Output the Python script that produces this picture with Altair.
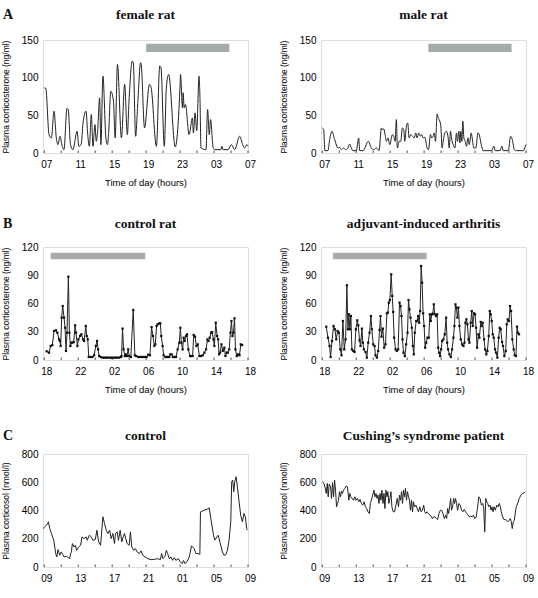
import json

import altair as alt
import pandas as pd

# ---------------------------------------------------------------------------
# Hormone profiles: (hours after the first clock label, concentration)
# ---------------------------------------------------------------------------
female_rat = [
    (0.0, 86.5), (0.18, 85.7), (0.56, 24.4), (0.84, 20), (1.15, 55.5), (1.42, 20),
    (1.61, 11.1), (1.85, 22.2), (2.12, 8.9), (2.32, 4.4), (2.67, 59), (2.82, 57.7),
    (3.09, 11.1), (3.37, 4.4), (3.87, 28.8), (4.07, 8.9), (4.34, 11.1), (4.57, 40),
    (4.92, 55.5), (5.12, 24.4), (5.31, 8.9), (5.54, 51), (5.74, 8.9), (5.97, 37.7),
    (6.13, 15.5), (6.28, 28), (6.52, 73.2), (6.67, 11.1), (6.91, 102), (7.26, 20),
    (7.45, 11.1), (7.57, 24.4), (7.84, 82), (8.15, 68.8), (8.35, 20), (8.62, 117.6),
    (9.09, 20), (9.47, 91), (9.79, 24.4), (9.98, 68.8), (10.37, 122), (10.49, 119.8),
    (10.76, 22.2), (11.03, 68.8), (11.34, 119.8), (11.42, 117.6), (11.81, 33.3),
    (12.39, 91), (12.59, 86.5), (13.21, 8.9), (13.60, 115.4), (13.75, 113.2),
    (14.14, 8.9), (14.38, 86.5), (14.65, 104.3), (15.43, 8), (16.01, 93.2),
    (16.05, 104.3), (16.28, 60), (16.36, 80), (16.48, 60), (16.63, 64.4),
    (17.06, 24.4), (17.45, 46.6), (17.57, 26.6), (17.76, 53.3), (17.96, 29.7),
    (18.23, 102), (18.35, 68.8), (18.46, 6.7), (19.05, 4.4), (19.24, 57.7),
    (19.44, 24.4), (19.59, 44.4), (19.90, 6.7), (20.10, 4.4), (20.80, 4.4),
    (20.91, 8.9), (21.07, 4.4), (21.65, 4.4), (22.04, 11.1), (22.43, 4.4),
    (23.02, 22.2), (23.37, 11.1), (23.60, 6.7), (23.87, 11.1), (24.0, 8.9),
]

male_rat = [
    (0.0, 33.3), (0.16, 31.1), (0.31, 3.1), (0.67, 3.1), (0.87, 17.8), (1.14, 28.8),
    (1.46, 17.8), (1.85, 6.7), (2.05, 7.5), (2.24, 4.4), (2.52, 6.7), (2.75, 4.4),
    (3.03, 6.7), (3.23, 12), (3.42, 6.7), (3.62, 3.1), (4.01, 3.1), (4.29, 20),
    (4.41, 3.1), (4.80, 3.1), (5.43, 15.5), (5.78, 6.7), (6.06, 4.4), (6.37, 6.7),
    (6.69, 3.1), (6.96, 33.3), (7.08, 31.1), (7.24, 32), (7.40, 24.4), (7.55, 15.5),
    (7.75, 20), (7.95, 11.1), (8.26, 24.4), (8.42, 22.2), (8.58, 15.5), (8.73, 44.4),
    (8.85, 6.7), (9.05, 15.5), (9.24, 15.5), (9.44, 33.3), (9.60, 31.1), (9.72, 15.5),
    (9.91, 35.5), (10.07, 39.9), (10.23, 20), (10.42, 24.4), (10.62, 22.2),
    (10.82, 20), (11.02, 26.6), (11.17, 20), (11.37, 26.6), (11.57, 22.2),
    (11.72, 24.4), (11.88, 20), (12.08, 20.9), (12.35, 6.7), (12.51, 4.4),
    (12.75, 24.4), (12.90, 20), (13.06, 22.2), (13.18, 26.6), (13.34, 15.5),
    (13.53, 51.9), (13.65, 46.6), (13.85, 42.2), (13.97, 35.5), (14.12, 6.7),
    (14.24, 15.5), (14.44, 26.6), (14.63, 28.8), (14.83, 20), (14.95, 6.7),
    (15.11, 28.8), (15.22, 20), (15.42, 11.1), (15.62, 6.7), (15.81, 26.6),
    (15.93, 15.5), (16.09, 28.8), (16.21, 13.3), (16.33, 28.8), (16.44, 15.5),
    (16.56, 42.2), (16.68, 20), (16.84, 15.5), (16.99, 8.9), (17.15, 20),
    (17.31, 11.1), (17.55, 26.6), (17.66, 20), (17.86, 6.7), (18.10, 6.7),
    (18.33, 26.6), (18.49, 24.4), (18.69, 13.3), (18.96, 3.1), (19.35, 3.1),
    (19.94, 3.1), (20.22, 8.9), (20.38, 3.1), (20.93, 3.1), (21.16, 8.9),
    (21.32, 3.1), (21.91, 3.1), (22.19, 22.2), (22.39, 17.8), (22.63, 4.4),
    (22.90, 3.1), (23.69, 3.1), (23.92, 8.9), (24.0, 11.1),
]

control_rat = [
    (0.28, 9.2), (0.56, 7.8), (0.75, 14.9), (0.95, 15.9), (1.15, 30.8), (1.38, 31.5),
    (1.54, 29.0), (1.74, 21.9), (1.85, 20.2), (1.93, 14.9), (2.05, 45.0), (2.17, 57.3),
    (2.33, 45.0), (2.45, 34.3), (2.56, 9.6), (2.68, 29.0), (2.84, 88.5), (2.96, 29.0),
    (3.08, 14.9), (3.19, 18.4), (3.31, 18.4), (3.47, 19.1), (3.63, 36.8), (3.74, 29.0),
    (3.90, 14.9), (4.02, 21.9), (4.22, 25.5), (4.37, 27.3), (4.57, 21.9), (4.69, 20.2),
    (4.89, 36.1), (5.00, 25.5), (5.12, 21.9), (5.24, 3.2), (5.48, 3.2), (5.67, 3.2),
    (5.87, 5.0), (6.07, 14.9), (6.22, 20.2), (6.34, 11.3), (6.46, 4.2), (6.66, 3.2),
    (6.86, 2.5), (7.05, 2.5), (7.25, 2.5), (7.45, 2.5), (7.65, 2.5), (7.84, 2.5),
    (8.04, 2.5), (8.23, 2.5), (8.43, 2.5), (8.63, 2.5), (8.82, 2.5), (9.02, 3.2),
    (9.10, 4.2), (9.22, 33.3), (9.34, 11.3), (9.49, 4.2), (9.61, 6.0), (9.73, 4.2),
    (9.89, 11.3), (10.00, 4.2), (10.20, 3.2), (10.48, 53.1), (10.67, 5.0), (10.83, 4.2),
    (11.07, 3.2), (11.25, 3.2), (11.45, 3.2), (11.65, 3.2), (11.85, 3.2), (12.05, 3.2),
    (12.25, 5.7), (12.45, 5.0), (12.64, 35.0), (12.80, 25.5), (12.96, 14.9),
    (13.08, 16.6), (13.23, 36.1), (13.35, 37.9), (13.55, 38.9), (13.67, 38.9),
    (13.78, 25.5), (13.94, 14.9), (14.06, 5.0), (14.26, 3.2), (14.45, 3.2), (14.60, 3.2),
    (14.73, 3.2), (14.85, 6.0), (15.00, 6.0), (15.16, 3.2), (15.34, 3.2), (15.52, 3.2),
    (15.71, 11.3), (15.91, 18.4), (16.03, 34.3), (16.15, 18.4), (16.30, 11.3),
    (16.42, 23.7), (16.54, 20.2), (16.70, 25.5), (16.82, 27.3), (16.97, 11.3),
    (17.17, 4.2), (17.29, 4.2), (17.48, 4.2), (17.60, 26.6), (17.76, 24.8),
    (17.92, 14.9), (18.08, 16.6), (18.27, 4.2), (18.47, 4.2), (18.67, 5.0),
    (18.86, 7.8), (19.06, 11.3), (19.22, 21.9), (19.34, 20.2), (19.49, 23.7),
    (19.65, 29.0), (19.77, 29.7), (19.93, 21.9), (20.04, 14.9), (20.20, 39.6),
    (20.36, 25.5), (20.48, 21.9), (20.59, 6.0), (20.71, 7.8), (20.87, 16.6),
    (21.03, 9.6), (21.22, 13.1), (21.34, 4.2), (21.50, 7.8), (21.62, 7.8),
    (21.78, 11.3), (21.93, 29.0), (22.05, 41.4), (22.17, 25.5), (22.29, 29.0),
    (22.41, 44.3), (22.52, 11.3), (22.68, 4.2), (22.84, 6.0), (23.00, 5.0),
    (23.15, 16.6), (23.31, 15.9),
]

arthritis_rat = [
    (0.47, 35.4), (0.67, 23.7), (0.86, 14.9), (0.98, 3.2), (1.14, 20.2), (1.33, 36.1),
    (1.49, 32.6), (1.65, 21.9), (1.80, 30.8), (1.96, 29.0), (2.12, 11.3), (2.27, 5.0),
    (2.43, 41.4), (2.59, 11.3), (2.75, 21.9), (2.90, 79.3), (3.02, 32.6), (3.14, 48.5),
    (3.25, 32.6), (3.37, 46.7), (3.49, 11.3), (3.65, 9.6), (3.80, 8.5), (3.96, 32.6),
    (4.12, 42.1), (4.24, 36.8), (4.39, 20.9), (4.51, 14.9), (4.67, 33.3), (4.78, 18.4),
    (4.90, 11.3), (5.10, 8.5), (5.25, 2.5), (5.41, 18.4), (5.57, 29.0), (5.73, 46.7),
    (5.84, 32.6), (6.00, 16.6), (6.16, 14.9), (6.27, 5.0), (6.43, 2.5), (6.59, 9.6),
    (6.75, 31.9), (6.86, 46.7), (6.98, 24.8), (7.14, 33.3), (7.29, 13.1), (7.45, 16.6),
    (7.61, 49.6), (7.73, 50.3), (7.84, 60.9), (7.96, 63.7), (8.12, 91.0), (8.24, 68.0),
    (8.35, 51.0), (8.47, 23.7), (8.63, 11.3), (8.78, 9.6), (8.94, 11.3), (9.10, 60.9),
    (9.22, 57.3), (9.33, 46.7), (9.45, 21.9), (9.57, 7.8), (9.73, 4.2), (9.88, 16.6),
    (10.04, 29.0), (10.16, 63.7), (10.27, 53.8), (10.39, 45.0), (10.55, 34.3),
    (10.67, 14.9), (10.78, 6.0), (10.90, 29.0), (11.06, 41.4), (11.18, 41.4),
    (11.29, 46.7), (11.41, 39.6), (11.53, 52.0), (11.65, 99.8), (11.76, 82.1),
    (11.88, 49.6), (12.00, 36.1), (12.12, 13.1), (12.24, 18.4), (12.39, 23.7),
    (12.55, 23.7), (12.67, 48.5), (12.78, 41.4), (12.90, 48.5), (13.02, 49.2),
    (13.14, 59.1), (13.25, 48.5), (13.41, 46.7), (13.53, 48.5), (13.65, 13.1),
    (13.76, 7.8), (13.88, 4.2), (14.00, 11.3), (14.12, 20.2), (14.27, 21.9),
    (14.43, 27.3), (14.59, 45.0), (14.71, 18.4), (14.82, 11.3), (14.98, 6.0),
    (15.14, 3.2), (15.29, 11.3), (15.45, 23.7), (15.57, 36.1), (15.69, 59.1),
    (15.80, 55.6), (15.92, 45.0), (16.04, 55.6), (16.16, 36.1), (16.31, 21.9),
    (16.47, 16.6), (16.63, 14.9), (16.75, 18.4), (16.86, 39.6), (16.98, 43.2),
    (17.10, 37.9), (17.22, 21.9), (17.33, 18.4), (17.49, 39.6), (17.61, 52.0),
    (17.73, 36.1), (17.88, 49.6), (18.00, 48.5), (18.12, 34.3), (18.24, 13.1),
    (18.39, 27.3), (18.51, 23.7), (18.67, 40.4), (18.78, 36.1), (18.90, 39.6),
    (19.06, 21.9), (19.18, 11.3), (19.33, 6.0), (19.45, 9.6), (19.61, 25.5),
    (19.73, 52.0), (19.84, 48.5), (19.96, 41.4), (20.08, 27.3), (20.20, 23.7),
    (20.35, 11.3), (20.47, 7.8), (20.63, 2.5), (20.78, 23.7), (20.90, 34.3),
    (21.02, 32.6), (21.18, 19.1), (21.29, 14.9), (21.45, 4.2), (21.61, 9.6),
    (21.73, 37.9), (21.84, 43.2), (22.00, 41.4), (22.12, 57.3), (22.24, 52.0),
    (22.39, 21.9), (22.55, 11.3), (22.67, 5.0), (22.82, 4.2), (22.94, 35.4),
    (23.06, 29.0), (23.18, 27.3),
]

control_human = [
    (-0.15, 272), (0.06, 284), (0.25, 296), (0.45, 312), (0.49, 320), (0.65, 272),
    (0.84, 237), (1.12, 189), (1.35, 95), (1.47, 71), (1.62, 123), (1.82, 83),
    (2.01, 107), (2.33, 71), (2.60, 76), (2.99, 59), (3.11, 95), (3.19, 107),
    (3.31, 166), (3.50, 142), (3.66, 154), (3.81, 118), (4.05, 142), (4.28, 154),
    (4.44, 213), (4.68, 201), (4.95, 213), (5.07, 189), (5.30, 225), (5.54, 213),
    (5.73, 189), (6.01, 194), (6.20, 260), (6.40, 178), (6.63, 154), (6.91, 355),
    (7.10, 308), (7.30, 260), (7.49, 237), (7.69, 260), (7.88, 201), (8.08, 237),
    (8.27, 166), (8.39, 237), (8.59, 249), (8.74, 189), (8.94, 260), (9.13, 178),
    (9.29, 213), (9.45, 237), (9.60, 201), (9.76, 166), (10.00, 154), (10.15, 249),
    (10.31, 142), (10.54, 118), (10.74, 130), (10.93, 107), (11.21, 95), (11.40, 114),
    (11.60, 83), (11.87, 71), (12.19, 59), (12.58, 52), (12.97, 54), (13.36, 59),
    (13.67, 52), (13.83, 95), (13.99, 59), (14.22, 76), (14.38, 118), (14.53, 95),
    (14.73, 59), (14.93, 71), (15.12, 47), (15.32, 66), (15.51, 47), (15.79, 59),
    (16.02, 36), (16.26, 24), (16.41, 47), (16.57, 24), (16.80, 36), (17.08, 71),
    (17.35, 150), (17.66, 130), (17.86, 95), (18.14, 95), (18.33, 90), (18.40, 390),
    (18.84, 402), (19.23, 410), (19.43, 419), (19.62, 343), (19.94, 225), (20.09, 190),
    (20.33, 213), (20.48, 225), (20.71, 173), (20.99, 106), (21.18, 83), (21.38, 87),
    (21.58, 119), (21.77, 190), (21.97, 320), (22.08, 604), (22.20, 615), (22.32, 533),
    (22.44, 604), (22.60, 639), (22.75, 568), (22.95, 462), (23.14, 367), (23.34, 320),
    (23.53, 379), (23.69, 355), (23.85, 272), (23.92, 261),
]

cushing_patient = [
    (0.00, 604), (0.16, 597), (0.31, 568), (0.47, 521), (0.59, 592), (0.70, 497),
    (0.82, 587), (0.98, 568), (1.09, 485), (1.21, 597), (1.33, 497), (1.45, 615),
    (1.56, 544), (1.68, 426), (1.80, 450), (1.91, 473), (2.03, 533), (2.15, 497),
    (2.27, 537), (2.38, 521), (2.50, 544), (2.66, 556), (2.81, 573), (2.97, 568),
    (3.13, 473), (3.24, 521), (3.36, 497), (3.52, 485), (3.67, 473), (3.83, 497),
    (3.98, 473), (4.14, 485), (4.30, 462), (4.45, 478), (4.61, 450), (4.77, 438),
    (4.92, 462), (5.08, 426), (5.23, 414), (5.39, 391), (5.55, 379), (5.66, 450),
    (5.78, 473), (5.94, 509), (6.09, 544), (6.21, 497), (6.33, 521), (6.45, 485),
    (6.56, 509), (6.68, 450), (6.80, 521), (6.91, 473), (7.03, 544), (7.15, 450),
    (7.27, 521), (7.38, 414), (7.50, 544), (7.62, 497), (7.73, 533), (7.85, 450),
    (7.97, 485), (8.09, 533), (8.20, 426), (8.36, 391), (8.52, 391), (8.67, 438),
    (8.83, 485), (8.98, 426), (9.10, 509), (9.22, 473), (9.34, 533), (9.45, 450),
    (9.57, 544), (9.69, 497), (9.80, 556), (9.92, 473), (10.04, 533), (10.16, 497),
    (10.27, 473), (10.39, 402), (10.51, 473), (10.63, 391), (10.74, 462), (10.86, 426),
    (11.02, 438), (11.17, 414), (11.33, 391), (11.48, 426), (11.64, 391), (11.80, 402),
    (11.95, 438), (12.07, 391), (12.19, 379), (12.34, 391), (12.50, 379), (12.66, 367),
    (12.81, 360), (12.97, 343), (13.13, 355), (13.28, 355), (13.44, 343), (13.59, 336),
    (13.75, 379), (13.91, 402), (14.06, 402), (14.22, 379), (14.38, 343), (14.53, 367),
    (14.65, 343), (14.77, 414), (14.88, 379), (15.00, 426), (15.12, 485), (15.23, 402),
    (15.35, 426), (15.47, 485), (15.59, 450), (15.70, 485), (15.82, 450), (15.94, 402),
    (16.09, 450), (16.25, 438), (16.41, 402), (16.56, 391), (16.72, 407), (16.88, 391),
    (17.03, 379), (17.19, 367), (17.34, 355), (17.50, 360), (17.66, 355), (17.81, 367),
    (17.97, 343), (18.13, 355), (18.28, 414), (18.44, 497), (18.59, 485), (18.75, 438),
    (18.91, 450), (19.02, 414), (19.14, 249), (19.26, 485), (19.38, 462), (19.49, 450),
    (19.61, 426), (19.77, 438), (19.88, 402), (20.00, 426), (20.12, 391), (20.23, 426),
    (20.39, 402), (20.55, 438), (20.70, 426), (20.86, 450), (20.98, 426), (21.09, 391),
    (21.25, 355), (21.41, 336), (21.56, 336), (21.72, 331), (21.88, 320), (22.03, 331),
    (22.15, 343), (22.27, 320), (22.38, 272), (22.50, 320), (22.62, 331), (22.73, 379),
    (22.85, 426), (23.05, 454), (23.20, 485), (23.40, 509), (23.59, 521), (23.79, 525),
    (23.91, 533),
]

# Dark-phase bars: (start hour, end hour, lower value, upper value)
dark_female = (12.0, 21.8, 134, 145)
dark_male = (12.5, 22.3, 134, 145)
dark_control_rat = (0.75, 11.9, 107, 114)
dark_arthritis = (1.25, 12.3, 107, 114)

# Clock labels at 0, 4, 8, ... 24 h
labels_a = ["07", "11", "15", "19", "23", "03", "07"]
labels_b = ["18", "22", "02", "06", "10", "14", "18"]
labels_c = ["09", "13", "17", "21", "01", "05", "09"]

ticks_a = [0, 50, 100, 150]
ticks_b = [0, 30, 60, 90, 120]
ticks_c = [0, 200, 400, 600, 800]

panel_letters = ["A", "B", "C"]

# ---------------------------------------------------------------------------
SERIF = "Liberation Serif"
SANS = "Liberation Sans"
INK = "#222222"
W, H = 205, 113
MAJOR = [0, 4, 8, 12, 16, 20, 24]
MINOR = list(range(0, 25, 2))
X_DOMAIN = [-0.15, 24]


def heading(text, x, align, size, title_off):
    return alt.Chart(pd.DataFrame({"s": [text]})).mark_text(
        font=SERIF, fontSize=size, fontWeight="bold", align=align,
        baseline="alphabetic", color="#111111",
    ).encode(text="s:N", x=alt.value(x), y=alt.value(-title_off))


def panel(series, ymax, yvals, ytitle, xlabels, title, title_off, xtitle_y,
          dark=None, bar_color="#a4acaa", letter=None, markers=False,
          interp="linear"):
    df = pd.DataFrame(series, columns=["t", "v"])
    xs = alt.Scale(domain=X_DOMAIN, nice=False, zero=False)
    ys = alt.Scale(domain=[0, ymax], nice=False)

    # identical axis definitions are handed to every layer so they merge cleanly
    xaxis = alt.Axis(
        values=MAJOR, labelExpr=f"{json.dumps(xlabels)}[round(datum.value / 4)]",
        title="Time of day (hours)", ticks=False, tickSize=0, domain=False, grid=False,
        labelPadding=6, labelOffset=2, labelOverlap=False, labelFlush=False,
        titleFontSize=9.5, titleFontWeight="normal", titleY=xtitle_y,
        titleBaseline="top",
    )
    yaxis = alt.Axis(
        values=yvals, title=ytitle, ticks=False, tickSize=0, domain=False, grid=False,
        labelPadding=5, labelOverlap=False, labelFlush=False, titleFontSize=8.5,
        titleFontWeight="normal", titleX=-38, titleY=H / 2, titleBaseline="middle",
    )

    def x_enc(field):
        return alt.X(field, scale=xs, axis=xaxis)

    def y_enc(field):
        return alt.Y(field, scale=ys, axis=yaxis)

    layers = []
    if dark is not None:
        bar_df = pd.DataFrame([dark], columns=["start", "end", "lo", "hi"])
        layers.append(
            alt.Chart(bar_df).mark_rect(color=bar_color).encode(
                x=x_enc("start:Q"), x2="end:Q", y=y_enc("lo:Q"), y2="hi:Q",
            )
        )
    layers.append(
        alt.Chart(df).mark_line(color=INK, strokeWidth=1, interpolate=interp).encode(
            x=x_enc("t:Q"), y=y_enc("v:Q"),
        )
    )
    if markers:
        layers.append(
            alt.Chart(df).mark_point(shape="square", filled=True, size=5,
                                     color="#111111", opacity=1).encode(
                x=x_enc("t:Q"), y=y_enc("v:Q"),
            )
        )
    # short inward ticks every two hours on the time axis
    layers.append(
        alt.Chart(pd.DataFrame({"t": MINOR})).mark_rule(color=INK, strokeWidth=0.8).encode(
            x=x_enc("t:Q"), y=alt.value(H), y2=alt.value(H - 2.5)
        )
    )
    layers.append(heading(title, W / 2, "center", 13.5, title_off))
    if letter is not None:
        layers.append(heading(letter, -40, "left", 14, title_off))

    return alt.layer(*layers).properties(width=W, height=H)


ng = "Plasma corticosterone (ng/ml)"
nmol = "Plasma corticosol (nmol/l)"

panels = [
    panel(female_rat, 150, ticks_a, ng, labels_a, "female rat", 20.7, 24,
          dark=dark_female, letter=panel_letters[0], interp="monotone"),
    panel(male_rat, 150, ticks_a, ng, labels_a, "male rat", 20.7, 24,
          dark=dark_male, interp="monotone"),
    panel(control_rat, 120, ticks_b, ng, labels_b, "control rat", 19, 24,
          dark=dark_control_rat, bar_color="#a9acab", letter=panel_letters[1],
          markers=True),
    panel(arthritis_rat, 120, ticks_b, ng, labels_b, "adjuvant-induced arthritis", 19, 24,
          dark=dark_arthritis, bar_color="#a9acab", markers=True),
    panel(control_human, 800, ticks_c, nmol, labels_c, "control", 14, 29,
          letter=panel_letters[2]),
    panel(cushing_patient, 800, ticks_c, nmol, labels_c, "Cushing\u2019s syndrome patient",
          14, 29),
]

chart = alt.concat(
    *panels, columns=2, spacing={"row": 94, "column": 73}, bounds="flush"
).properties(
    padding={"left": 0, "top": 7, "right": 0, "bottom": 0}
).configure_view(
    stroke=INK, strokeWidth=1
).configure_axis(
    labelOverlap=False, labelFlush=False, labelFont=SANS, labelFontSize=8.5,
    labelColor=INK, titleFont=SANS, titleFontWeight="normal", titleColor=INK,
).configure(background="white")

chart.save("out.html", embed_options={"renderer": "svg", "actions": False})
